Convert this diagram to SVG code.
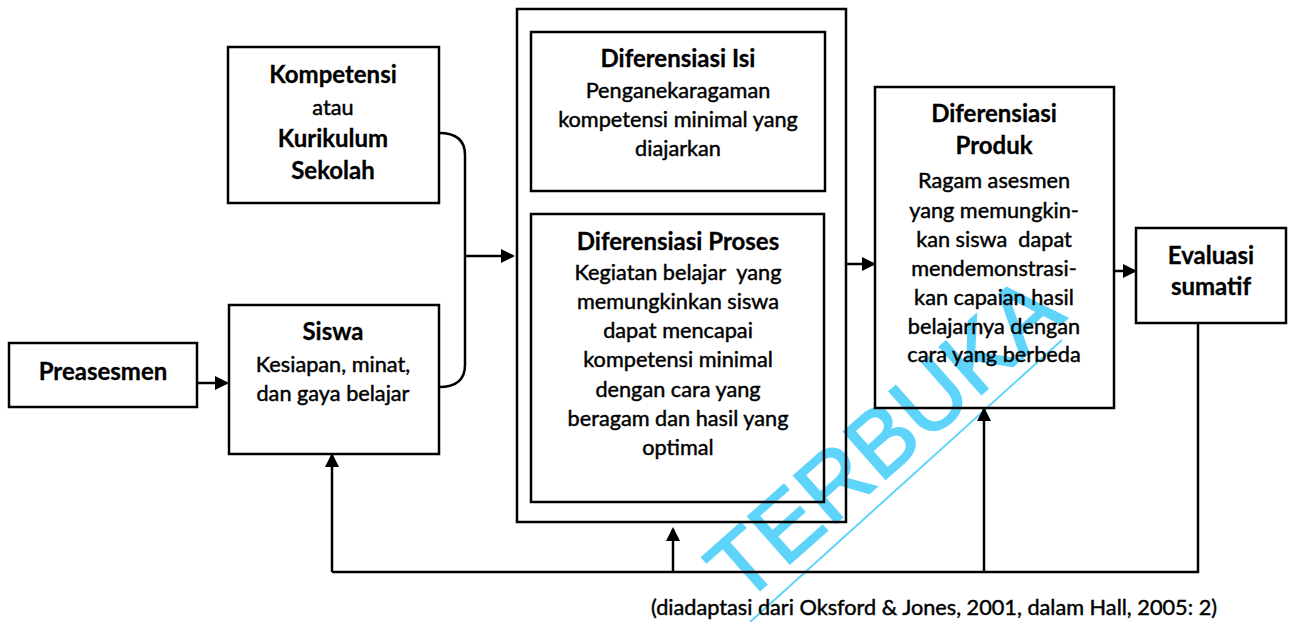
<svg xmlns="http://www.w3.org/2000/svg" width="1290" height="622" viewBox="0 0 1290 622">
<style>
.box{fill:none;stroke:#000;stroke-width:2.5}
.ln{fill:none;stroke:#000;stroke-width:2.5}
.t{font-family:Lato,"Liberation Sans",sans-serif;font-size:21.7px;fill:#000;stroke:#000;stroke-width:0.45;text-anchor:middle}
.b{font-weight:bold;font-size:24px;stroke-width:0.3}
.pre{white-space:pre}
.wm{font-family:"Liberation Sans",Arial,sans-serif;font-size:92px;fill:#5fd4fa;stroke:#5fd4fa;stroke-width:1.8;text-anchor:middle}
</style>
<defs>
<marker id="ah" markerWidth="14" markerHeight="14" refX="12" refY="7" orient="auto" markerUnits="userSpaceOnUse">
<path d="M0,0 L14,7 L0,14 Z" fill="#000"/>
</marker>
</defs>
<rect width="1290" height="622" fill="#fff"/>
<g id="watermark">
<text class="wm" x="905" y="462" transform="rotate(-41.5 905 462)">TERBUKA</text>
<line x1="750" y1="622" x2="1062" y2="340" stroke="#5fd4fa" stroke-width="2"/>
</g>
<g id="connectors">
<path class="ln" d="M439,133 Q465,133 465,155 L465,365 Q465,387 439,387"/>
<line class="ln" x1="465" y1="256" x2="513" y2="256" marker-end="url(#ah)"/>
<line class="ln" x1="197" y1="383" x2="227" y2="383" marker-end="url(#ah)"/>
<line class="ln" x1="847" y1="264" x2="874" y2="264" marker-end="url(#ah)"/>
<line class="ln" x1="1114" y1="271" x2="1135" y2="271" marker-end="url(#ah)"/>
<polyline class="ln" points="1198,323 1198,572 332,572"/>
<line class="ln" x1="332" y1="572" x2="332" y2="455" marker-end="url(#ah)"/>
<line class="ln" x1="673" y1="572" x2="673" y2="529" marker-end="url(#ah)"/>
<line class="ln" x1="984" y1="572" x2="984" y2="409" marker-end="url(#ah)"/>
</g>
<g id="kompetensi">
<rect class="box" x="228" y="47" width="211" height="156"/>
<text class="t b" x="333" y="83">Kompetensi</text>
<text class="t" x="333" y="115">atau</text>
<text class="t b" x="333" y="147">Kurikulum</text>
<text class="t b" x="333" y="179">Sekolah</text>
</g>
<g id="preasesmen">
<rect class="box" x="9" y="343" width="188" height="64"/>
<text class="t b" x="103" y="380">Preasesmen</text>
</g>
<g id="siswa">
<rect class="box" x="229" y="305" width="210" height="149"/>
<text class="t b" x="333" y="340">Siswa</text>
<text class="t" x="333" y="372">Kesiapan, minat,</text>
<text class="t" x="333" y="401">dan gaya belajar</text>
</g>
<g id="diferensiasi-group">
<rect class="box" x="517" y="9" width="329" height="513"/>
</g>
<g id="diferensiasi-isi">
<rect class="box" x="531" y="32" width="294" height="159"/>
<text class="t b" x="678" y="67">Diferensiasi Isi</text>
<text class="t" x="678" y="98">Penganekaragaman</text>
<text class="t" x="678" y="127">kompetensi minimal yang</text>
<text class="t" x="678" y="156">diajarkan</text>
</g>
<g id="diferensiasi-proses">
<rect class="box" x="531" y="214" width="293" height="288"/>
<text class="t b" x="678" y="250">Diferensiasi Proses</text>
<text class="t pre" x="678" y="280">Kegiatan belajar  yang</text>
<text class="t" x="678" y="309">memungkinkan siswa</text>
<text class="t" x="678" y="338">dapat mencapai</text>
<text class="t" x="678" y="367">kompetensi minimal</text>
<text class="t" x="678" y="397">dengan cara yang</text>
<text class="t" x="678" y="426">beragam dan hasil yang</text>
<text class="t" x="678" y="455">optimal</text>
</g>
<g id="diferensiasi-produk">
<rect class="box" x="875" y="87" width="239" height="321"/>
<text class="t b" x="994" y="122">Diferensiasi</text>
<text class="t b" x="994" y="154">Produk</text>
<text class="t" x="994" y="188">Ragam asesmen</text>
<text class="t" x="994" y="218">yang memungkin-</text>
<text class="t pre" x="994" y="247">kan siswa  dapat</text>
<text class="t" x="994" y="276">mendemonstrasi-</text>
<text class="t" x="994" y="305">kan capaian hasil</text>
<text class="t" x="994" y="334">belajarnya dengan</text>
<text class="t" x="994" y="362">cara yang berbeda</text>
</g>
<g id="evaluasi">
<rect class="box" x="1136" y="228" width="150" height="95"/>
<text class="t b" x="1211" y="264">Evaluasi</text>
<text class="t b" x="1211" y="295">sumatif</text>
</g>
<text class="t" x="934" y="615">(diadaptasi dari Oksford &amp; Jones, 2001, dalam Hall, 2005: 2)</text>
</svg>
